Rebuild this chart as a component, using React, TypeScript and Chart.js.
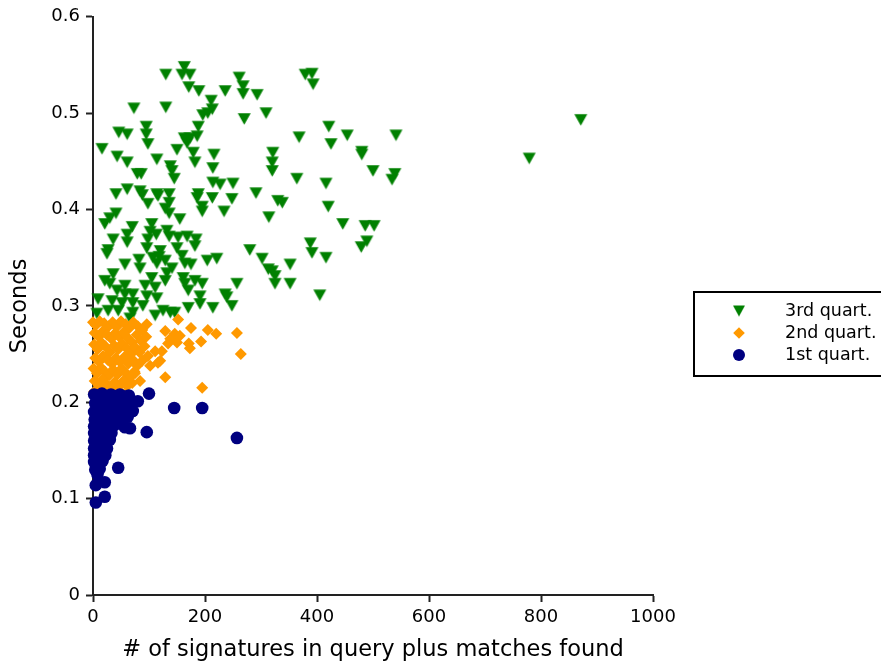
import React, { useEffect, useRef } from 'react';
import { Chart, registerables } from 'chart.js';
import { drawPoint } from 'chart.js/helpers';

Chart.register(...registerables);

const FONT = '"DejaVu Sans", "Liberation Sans", sans-serif';

// ---- data ----
const xTickValues = [0, 200, 400, 600, 800, 1000];
const yTickValues = [0, 0.1, 0.2, 0.3, 0.4, 0.5, 0.6];
const xTitle = '# of signatures in query plus matches found';
const yTitle = 'Seconds';
const seriesNames = ['3rd quart.', '2nd quart.', '1st quart.'];

// 3rd quartile: [matches, seconds]
const q3: [number, number][] = [
  [130, 0.540], [163, 0.548], [159, 0.540], [173, 0.540], [171, 0.527], [189, 0.523], [211, 0.513], [236, 0.523], [261, 0.537], [268, 0.528], [268, 0.520], [293, 0.519],
  [73, 0.505], [130, 0.506], [213, 0.504], [205, 0.500], [196, 0.498], [270, 0.494], [309, 0.500],
  [95, 0.486], [46, 0.480], [61, 0.478], [95, 0.478], [98, 0.468], [188, 0.486], [186, 0.476], [173, 0.474], [163, 0.474], [168, 0.469],
  [16, 0.463], [43, 0.455], [61, 0.449], [114, 0.452], [150, 0.462], [179, 0.459], [182, 0.449], [216, 0.457], [321, 0.459], [320, 0.449], [320, 0.440],
  [79, 0.437], [86, 0.437], [138, 0.445], [141, 0.440], [145, 0.432], [214, 0.443], [214, 0.428], [227, 0.426], [250, 0.427], [291, 0.417], [330, 0.409],
  [41, 0.416], [61, 0.421], [84, 0.419], [88, 0.415], [98, 0.406], [114, 0.416], [116, 0.414], [136, 0.416], [136, 0.407], [129, 0.401], [136, 0.396], [155, 0.390],
  [188, 0.416], [186, 0.412], [213, 0.412], [195, 0.403], [195, 0.398], [248, 0.411], [234, 0.398], [314, 0.392],
  [41, 0.396], [30, 0.391], [21, 0.385], [70, 0.382], [61, 0.374], [36, 0.369], [61, 0.366], [105, 0.385], [102, 0.377], [113, 0.374], [98, 0.369],
  [132, 0.378], [136, 0.372], [152, 0.371], [168, 0.372], [184, 0.369], [182, 0.362], [150, 0.360], [27, 0.358], [96, 0.360], [120, 0.357], [280, 0.358],
  [379, 0.540], [391, 0.541], [393, 0.530], [421, 0.486], [368, 0.475], [454, 0.477], [541, 0.477], [425, 0.468], [480, 0.460], [480, 0.457],
  [500, 0.440], [539, 0.437], [534, 0.431], [364, 0.432], [416, 0.427], [338, 0.407], [420, 0.403], [446, 0.385], [486, 0.383], [502, 0.383],
  [489, 0.367], [479, 0.361], [388, 0.365], [391, 0.355], [416, 0.350], [352, 0.343], [320, 0.336], [325, 0.323], [352, 0.323], [405, 0.311],
  [871, 0.493], [779, 0.453],
  [25, 0.354], [57, 0.343], [82, 0.348], [107, 0.350], [118, 0.351], [114, 0.344], [129, 0.347], [141, 0.339], [159, 0.352], [164, 0.344], [175, 0.343],
  [204, 0.347], [221, 0.349], [302, 0.349], [313, 0.338], [325, 0.331], [257, 0.323], [239, 0.309], [248, 0.300], [214, 0.298], [191, 0.310], [191, 0.302],
  [164, 0.323], [170, 0.316], [182, 0.326], [161, 0.329], [170, 0.298], [138, 0.293], [125, 0.295], [111, 0.290], [111, 0.319], [105, 0.329], [93, 0.321],
  [96, 0.310], [114, 0.308], [129, 0.326], [132, 0.334], [84, 0.339], [36, 0.333], [30, 0.323], [43, 0.316], [57, 0.321], [57, 0.312], [71, 0.312],
  [71, 0.303], [52, 0.303], [34, 0.305], [9, 0.307], [7, 0.292], [27, 0.295], [45, 0.295], [71, 0.293], [89, 0.300], [146, 0.293], [66, 0.287],
  [195, 0.323], [236, 0.312], [21, 0.326],
];

// 2nd quartile
const q2: [number, number][] = [
  [152, 0.286], [175, 0.277], [205, 0.275], [220, 0.271], [257, 0.272], [193, 0.263], [171, 0.261], [173, 0.256], [264, 0.250],
  [129, 0.226], [195, 0.215], [146, 0.271], [150, 0.262], [120, 0.243], [102, 0.238], [96, 0.281], [129, 0.274], [134, 0.261],
  [111, 0.253], [98, 0.248], [75, 0.230], [70, 0.220], [84, 0.222], [116, 0.241], [123, 0.253], [155, 0.269], [138, 0.266],
  [0, 0.283], [5, 0.280], [12, 0.284], [20, 0.282], [28, 0.279], [35, 0.283], [42, 0.278], [50, 0.284], [58, 0.281], [65, 0.277], [72, 0.283], [80, 0.279], [88, 0.275],
  [3, 0.272], [10, 0.268], [18, 0.274], [25, 0.270], [33, 0.266], [40, 0.272], [47, 0.268], [55, 0.273], [62, 0.267], [70, 0.262], [78, 0.270], [85, 0.264], [95, 0.268],
  [2, 0.260], [8, 0.255], [15, 0.262], [22, 0.258], [30, 0.252], [38, 0.259], [45, 0.255], [52, 0.261], [60, 0.256], [68, 0.250], [75, 0.257], [83, 0.252], [92, 0.258],
  [4, 0.246], [11, 0.242], [18, 0.248], [26, 0.244], [34, 0.240], [41, 0.246], [48, 0.242], [56, 0.247], [63, 0.240], [71, 0.244], [79, 0.238], [88, 0.243],
  [1, 0.235], [7, 0.230], [14, 0.236], [21, 0.232], [29, 0.228], [36, 0.234], [44, 0.229], [51, 0.235], [59, 0.230], [66, 0.226], [74, 0.232],
  [3, 0.222], [10, 0.218], [17, 0.224], [24, 0.219], [32, 0.215], [39, 0.221], [46, 0.216], [54, 0.222], [61, 0.217],
  [2, 0.211], [9, 0.207], [16, 0.212], [23, 0.208], [31, 0.205], [38, 0.210], [45, 0.206], [55, 0.208],
];

// 1st quartile
const q1: [number, number][] = [
  [100, 0.209], [80, 0.201], [145, 0.194], [195, 0.194], [96, 0.169], [257, 0.163], [45, 0.132], [21, 0.117], [5, 0.114], [21, 0.102], [5, 0.096],
  [57, 0.174], [66, 0.173], [71, 0.191], [62, 0.185],
  [2, 0.208], [9, 0.207], [16, 0.209], [24, 0.206], [32, 0.208], [40, 0.206], [48, 0.208], [56, 0.206], [64, 0.207],
  [4, 0.199], [10, 0.200], [18, 0.198], [26, 0.200], [34, 0.198], [42, 0.199], [50, 0.200], [58, 0.198], [68, 0.199],
  [2, 0.190], [8, 0.191], [16, 0.189], [24, 0.190], [32, 0.191], [40, 0.189], [52, 0.190], [60, 0.191],
  [3, 0.182], [11, 0.183], [19, 0.181], [27, 0.182], [35, 0.183], [45, 0.181],
  [2, 0.175], [8, 0.174], [16, 0.176], [24, 0.174], [32, 0.175], [38, 0.176],
  [2, 0.168], [10, 0.167], [18, 0.169], [26, 0.167], [33, 0.168],
  [2, 0.160], [8, 0.161], [16, 0.159], [24, 0.160], [30, 0.161],
  [2, 0.152], [10, 0.153], [18, 0.151], [25, 0.152],
  [2, 0.145], [8, 0.144], [16, 0.146], [22, 0.145],
  [2, 0.138], [10, 0.137], [17, 0.139],
  [4, 0.130], [12, 0.131], [8, 0.125],
];

const toXY = (pts: [number, number][]) => pts.map(([x, y]) => ({ x, y }));

const AXIS = '#222222';
const COLORS = ['#008000', '#ff9900', '#000080'];

// downward triangle marker, centred on its bounding box (like matplotlib 'v')
function makeTriangle(color: string, w: number, h: number) {
  const c = document.createElement('canvas');
  c.width = Math.ceil(w) + 2;
  c.height = Math.ceil(h) + 2;
  const g = c.getContext('2d')!;
  const ox = (c.width - w) / 2;
  const oy = (c.height - h) / 2;
  g.fillStyle = color;
  g.beginPath();
  g.moveTo(ox, oy);
  g.lineTo(ox + w, oy);
  g.lineTo(ox + w / 2, oy + h);
  g.closePath();
  g.fill();
  return c;
}

const boxLegend = {
  id: 'boxLegend',
  afterDraw(chart: any) {
    const ctx = chart.ctx as CanvasRenderingContext2D;
    ctx.save();
    ctx.strokeStyle = '#000';
    ctx.lineWidth = 2;
    ctx.strokeRect(694, 292, 240, 84);
    const rows = [311, 333, 355];
    ctx.font = `17.5px ${FONT}`;
    ctx.textBaseline = 'middle';
    ctx.textAlign = 'left';
    const legendStyles: any[] = [
      { pointStyle: makeTriangle(COLORS[0], 12, 11), radius: 6, rotation: 0, borderWidth: 0 },
      { pointStyle: 'rectRot', radius: 5.8, rotation: 0, borderWidth: 0 },
      { pointStyle: 'circle', radius: 6, rotation: 0, borderWidth: 0 },
    ];
    seriesNames.forEach((name, i) => {
      ctx.fillStyle = COLORS[i];
      drawPoint(ctx, legendStyles[i], 739, rows[i]);
      ctx.fillStyle = '#000';
      ctx.fillText(name, 785, rows[i]);
    });
    ctx.restore();
  },
};

export default function App() {
  const ref = useRef<HTMLCanvasElement | null>(null);

  useEffect(() => {
    if (!ref.current) return;
    const series = [q3, q2, q1];
    const styles: any[] = [
      { pointStyle: makeTriangle(COLORS[0], 13, 11.3), radius: 7 },
      { pointStyle: 'rectRot', radius: 6 },
      { pointStyle: 'circle', radius: 6.3 },
    ];
    const chart = new Chart(ref.current, {
      type: 'scatter',
      data: {
        datasets: series.map((pts, i) => ({
          label: seriesNames[i],
          data: toXY(pts),
          backgroundColor: COLORS[i],
          borderColor: COLORS[i],
          pointStyle: styles[i].pointStyle,
          pointRadius: styles[i].radius,
          pointRotation: 0,
          pointBorderWidth: 0,
          pointHoverRadius: styles[i].radius,
          order: 2 - i,
          clip: false as any,
        })),
      },
      options: {
        animation: false,
        responsive: false,
        devicePixelRatio: 1,
        events: [],
        layout: { padding: { left: 0, top: 15, right: 228, bottom: 0 } },
        plugins: {
          legend: { display: false },
          tooltip: { enabled: false },
        },
        scales: {
          x: {
            type: 'linear',
            min: 0,
            max: 1000,
            afterBuildTicks: (axis: any) => {
              axis.ticks = xTickValues.map((value) => ({ value }));
            },
            afterFit: (axis: any) => {
              axis.height = 71;
            },
            ticks: {
              callback: (v: any) => String(v),
              font: { family: FONT, size: 18 },
              color: '#000',
              padding: 5,
              maxRotation: 0,
            },
            grid: { display: true, drawOnChartArea: false, drawTicks: true, tickLength: 7, tickWidth: 2, tickColor: AXIS },
            border: { display: true, width: 2, color: AXIS },
            title: { display: true, text: xTitle, font: { family: FONT, size: 22.5 }, color: '#000', padding: { top: 0, bottom: 2 } },
          },
          y: {
            type: 'linear',
            min: 0,
            max: 0.6,
            afterBuildTicks: (axis: any) => {
              axis.ticks = yTickValues.map((value) => ({ value }));
            },
            afterFit: (axis: any) => {
              axis.width = 93;
            },
            ticks: {
              callback: (v: any) => (v === 0 ? '0' : Number(v).toFixed(1)),
              font: { family: FONT, size: 18 },
              color: '#000',
              padding: 6,
            },
            grid: { display: true, drawOnChartArea: false, drawTicks: true, tickLength: 7, tickWidth: 2, tickColor: AXIS },
            border: { display: true, width: 2, color: AXIS },
            title: { display: true, text: yTitle, font: { family: FONT, size: 22.5 }, color: '#000', padding: { top: 7, bottom: 0 } },
          },
        },
      },
      plugins: [boxLegend],
    });
    return () => chart.destroy();
  }, []);

  return (
    <div style={{ position: 'absolute', left: 0, top: 0, width: 881, height: 666, background: '#fff' }}>
      <canvas ref={ref} width={881} height={666} style={{ display: 'block' }} />
    </div>
  );
}
